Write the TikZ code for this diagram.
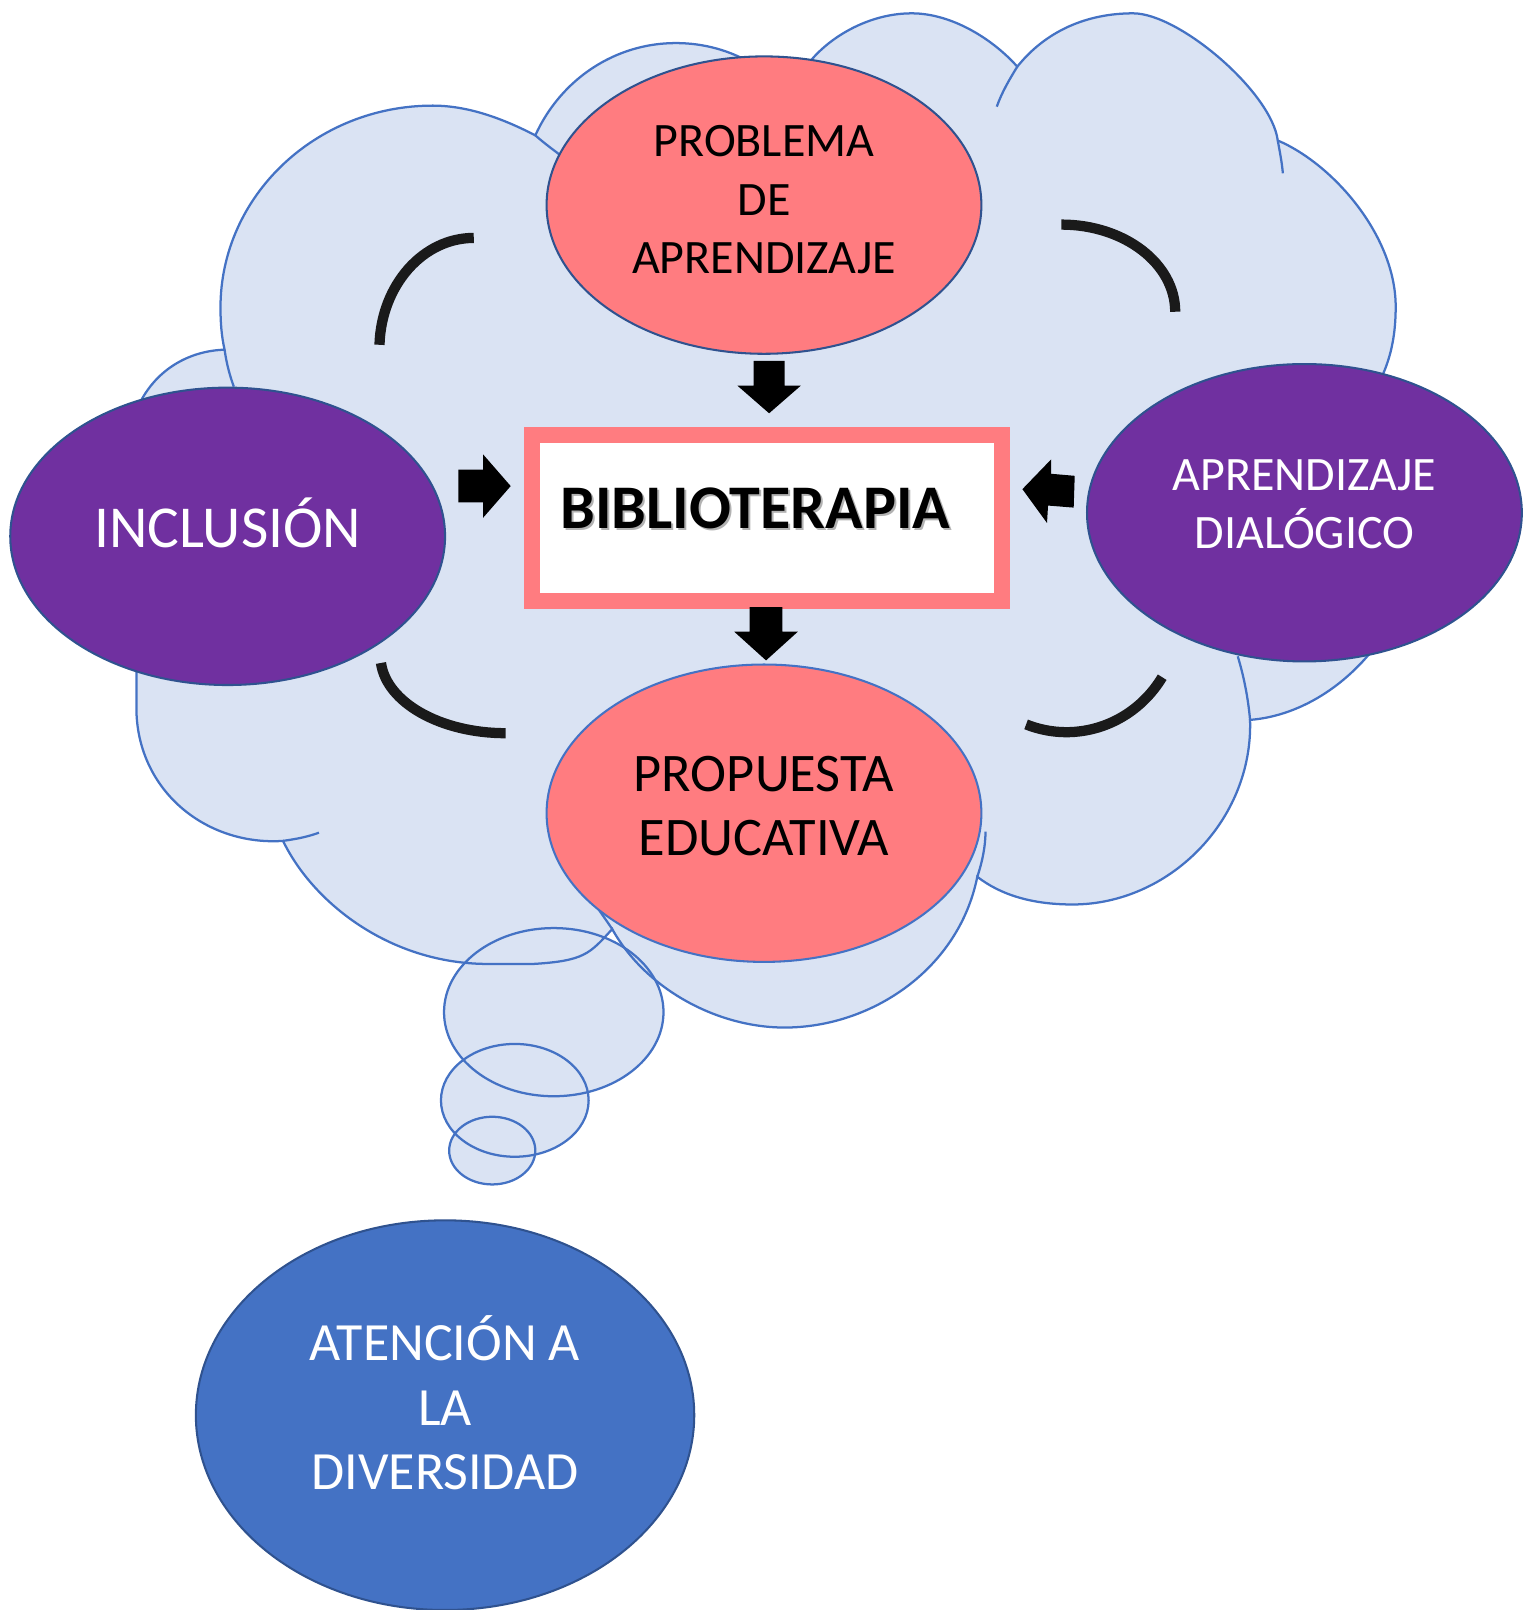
\documentclass[tikz,border=0pt]{standalone}
\usepackage{fontspec}
\setmainfont{Carlito}
\usetikzlibrary{shapes.geometric}
\definecolor{cloudfill}{HTML}{DAE3F3}
\definecolor{cloudline}{HTML}{4472C4}
\definecolor{darkline}{HTML}{2F528F}
\definecolor{salmonc}{HTML}{FF7C80}
\definecolor{purpc}{HTML}{7030A0}
\definecolor{atbluec}{HTML}{4472C4}
\definecolor{arcblack}{HTML}{1A1A1A}
\newcommand{\bibshadow}[1]{\makebox[0pt][l]{\hspace{2pt}\raisebox{-2pt}{\textcolor{black!30}{#1}}}#1}
\begin{document}
\begin{tikzpicture}[x=1pt,y=-1pt,
  ellbase/.style={ellipse, inner sep=0pt, align=center, line width=2pt},
  pinkell/.style={ellbase, fill=salmonc, text=black, minimum width=424pt, minimum height=290pt},
  purpell/.style={ellbase, fill=purpc, draw=darkline, text=white, minimum width=424pt, minimum height=290pt},
  cloudstroke/.style={draw=cloudline, line width=2.2pt},
  arcline/.style={draw=arcblack, line width=10pt},
  blockarrow/.style={fill=black}]
\useasboundingbox (0,0) rectangle (1494,1570);

% cloud fill
\fill[cloudfill] (219,341)
 .. controls (216,328) and (215,314) .. (215,300)
 .. controls (215,191) and (308,103) .. (422,103)
 .. controls (457,103) and (491,116) .. (522,132)
 .. controls (547,77) and (600,42) .. (659,42)
 .. controls (686,42) and (712,49) .. (735,63)
 -- (780,75)
 .. controls (795,45) and (840,13) .. (889,13)
 .. controls (928,13) and (968,38) .. (992,65)
 .. controls (1020,30) and (1060,13) .. (1105,13)
 .. controls (1150,13) and (1240,90) .. (1246,137)
 .. controls (1300,160) and (1361,230) .. (1361,299)
 .. controls (1361,325) and (1357,345) .. (1349,364)
 -- (1340,400) -- (1352,615)
 .. controls (1320,665) and (1270,698) .. (1219,702)
 .. controls (1222,800) and (1140,882) .. (1046,882)
 .. controls (1005,882) and (975,872) .. (953,855)
 .. controls (935,945) and (850,1002) .. (765,1002)
 .. controls (700,1002) and (630,965) .. (597,906)
 .. controls (575,930) and (570,937) .. (520,940)
 -- (476,940)
 .. controls (380,940) and (305,880) .. (276,820)
 .. controls (200,825) and (133,770) .. (133,690)
 -- (133,400)
 .. controls (150,360) and (185,342) .. (219,341)
 -- cycle;
\fill[cloudfill] (540,987) ellipse [x radius=107, y radius=82];
\fill[cloudfill] (502,1073) ellipse [x radius=72, y radius=55];
\fill[cloudfill] (480,1122) ellipse [x radius=42, y radius=33];

% cloud outline
\draw[cloudstroke] (219,341)
 .. controls (216,328) and (215,314) .. (215,300)
 .. controls (215,191) and (308,103) .. (422,103)
 .. controls (457,103) and (491,116) .. (522,132)
 .. controls (547,77) and (600,42) .. (659,42)
 .. controls (686,42) and (712,49) .. (735,63)
 -- (780,75)
 .. controls (795,45) and (840,13) .. (889,13)
 .. controls (928,13) and (968,38) .. (992,65)
 .. controls (1020,30) and (1060,13) .. (1105,13)
 .. controls (1150,13) and (1240,90) .. (1246,137)
 .. controls (1300,160) and (1361,230) .. (1361,299)
 .. controls (1361,325) and (1357,345) .. (1349,364)
 -- (1340,400) -- (1352,615)
 .. controls (1320,665) and (1270,698) .. (1219,702)
 .. controls (1222,800) and (1140,882) .. (1046,882)
 .. controls (1005,882) and (975,872) .. (953,855)
 .. controls (935,945) and (850,1002) .. (765,1002)
 .. controls (700,1002) and (630,965) .. (597,906)
 .. controls (575,930) and (570,937) .. (520,940)
 -- (476,940)
 .. controls (380,940) and (305,880) .. (276,820)
 .. controls (200,825) and (133,770) .. (133,690)
 -- (133,400)
 .. controls (150,360) and (185,342) .. (219,341)
 -- cycle;
% inner ticks of the cloud
\draw[cloudstroke] (219,341) .. controls (221,355) and (224,366) .. (228,377);
\draw[cloudstroke] (522,132) .. controls (530,139) and (538,145) .. (546,151);
\draw[cloudstroke] (992,65) .. controls (984,78) and (977,90) .. (972,104);
\draw[cloudstroke] (1246,137) .. controls (1248,148) and (1250,158) .. (1251,169);
\draw[cloudstroke] (1219,702) .. controls (1217,680) and (1213,660) .. (1207,640);
\draw[cloudstroke] (953,855) .. controls (958,840) and (961,825) .. (961,811);
\draw[cloudstroke] (597,906) .. controls (591,897) and (585,889) .. (580,881);
\draw[cloudstroke] (276,820) .. controls (290,818) and (300,816) .. (311,812);
% thought bubbles
\draw[cloudstroke] (540,987) ellipse [x radius=107, y radius=82];
\draw[cloudstroke] (502,1073) ellipse [x radius=72, y radius=55];
\draw[cloudstroke] (480,1122) ellipse [x radius=42, y radius=33];

% thick black arcs
\draw[arcline] (462,232) arc[start angle=270, end angle=182, x radius=92, y radius=108];
\draw[arcline] (1035,219) arc[start angle=270, end angle=360, x radius=111, y radius=85];
\draw[arcline] (371.5,646.5) arc[start angle=175, end angle=90, x radius=122, y radius=75];
\draw[arcline] (1000.6,706.4) arc[start angle=111, end angle=32, x radius=110, y radius=114];

% ellipses
\node[pinkell, draw=darkline, font=\fontsize{46.8}{57}\selectfont, text height=144.1pt, text depth=10pt] (prob) at (745,200) {PROBLEMA\\DE\\APRENDIZAJE};
\node[pinkell, draw=cloudline, font=\fontsize{53}{62}\selectfont, text height=96.1pt, text depth=14pt] (prop) at (745,793) {PROPUESTA\\EDUCATIVA};
\node[purpell, font=\fontsize{58}{68}\selectfont, text height=37.4pt, text depth=16pt] (incl) at (222,523) {INCLUSIÓN};
\node[purpell, font=\fontsize{46.8}{57}\selectfont, text height=87.1pt, text depth=17pt] (dial) at (1272,500) {APRENDIZAJE\\DIALÓGICO};
\node[ellbase, fill=atbluec, draw=darkline, text=white, minimum width=486pt, minimum height=380pt, font=\fontsize{52.5}{63}\selectfont, text height=159.8pt, text depth=14pt] (aten) at (434,1380) {ATENCIÓN A\\LA\\DIVERSIDAD};

% central box
\node[draw=salmonc, line width=16pt, fill=white, minimum width=458pt, minimum height=162pt, inner sep=0pt, font=\bfseries\fontsize{60.5}{70}\selectfont, text height=39pt, text depth=18pt] (bib) at (748,505) {\bibshadow{BIBLIOTERAPIA}\kern23pt};

% block arrows
\fill[blockarrow] (735,352) -- (765,352) -- (765,376) -- (781,376) -- (750,403) -- (719,376) -- (735,376) -- cycle;
\fill[blockarrow] (731,592) -- (763,592) -- (763,616) -- (778,616) -- (747,644) -- (716,616) -- (731,616) -- cycle;
\fill[blockarrow] (447,458) -- (471,458) -- (471,443) -- (498,474) -- (471,505) -- (471,490) -- (447,490) -- cycle;
\fill[blockarrow] (1048,464) -- (1025,462) -- (1025,448) -- (997,477) -- (1021,510) -- (1022,493) -- (1047,495) -- cycle;
\end{tikzpicture}
\end{document}
